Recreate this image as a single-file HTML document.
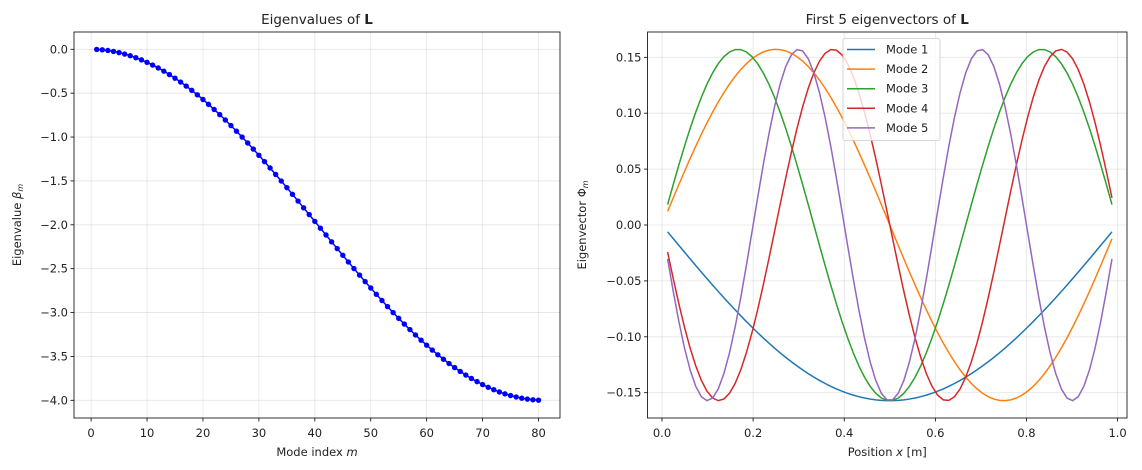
<!DOCTYPE html>
<html><head><meta charset="utf-8"><style>
html,body{margin:0;padding:0;background:#fff}
svg{display:block;font-family:"DejaVu Sans","Liberation Sans",sans-serif}
</style></head><body>
<svg id="s" width="1142" height="470" xmlns="http://www.w3.org/2000/svg"></svg>
<script>
const s=document.getElementById('s');let h='';
const FS=11.5;
function t(x,y,txt,a,sz,extra){h+=`<text x="${x}" y="${y}" font-size="${sz||FS}" text-anchor="${a||'middle'}" fill="#222" ${extra||''}>${txt}</text>`;}
// LEFT
const L={x0:74,x1:560,y0:32,y1:418};
const lx=m=>91.1+(m)*5.593, ly=v=>49.3-v*87.75;
for(let m=0;m<=80;m+=10){const x=lx(m);h+=`<line x1="${x}" y1="${L.y0}" x2="${x}" y2="${L.y1}" stroke="#000" stroke-opacity="0.1" stroke-width="0.8"/>`;h+=`<line x1="${x}" y1="${L.y1}" x2="${x}" y2="${L.y1+3.5}" stroke="#000" stroke-width="0.8"/>`;t(x,L.y1+19,m);}
for(let i=0;i<=8;i++){const v=-0.5*i,y=ly(v);h+=`<line x1="${L.x0}" y1="${y}" x2="${L.x1}" y2="${y}" stroke="#000" stroke-opacity="0.1" stroke-width="0.8"/>`;h+=`<line x1="${L.x0-3.5}" y1="${y}" x2="${L.x0}" y2="${y}" stroke="#000" stroke-width="0.8"/>`;t(L.x0-6,y+4,(i==0?'0.0':'−'+v.toFixed(1).slice(1)),'end');}
let pts=[];for(let m=1;m<=80;m++){const b=-4*Math.pow(Math.sin(m*Math.PI/162),2);pts.push([lx(m),ly(b)]);}
h+=`<polyline points="${pts.map(p=>p.join(',')).join(' ')}" fill="none" stroke="#0000ff" stroke-width="1.5"/>`;
pts.forEach(p=>h+=`<circle cx="${p[0]}" cy="${p[1]}" r="2.7" fill="#0000ff"/>`);
h+=`<rect x="${L.x0}" y="${L.y0}" width="${L.x1-L.x0}" height="${L.y1-L.y0}" fill="none" stroke="#000" stroke-width="0.8"/>`;
t((L.x0+L.x1)/2,24,'Eigenvalues of <tspan font-weight="bold">L</tspan>','middle',13.5);
t((L.x0+L.x1)/2,456,'Mode index <tspan font-style="italic">m</tspan>');
t(0,0,'Eigenvalue <tspan font-style="italic">β</tspan><tspan font-size="8" dy="2" font-style="italic">m</tspan>','middle',FS,'transform="translate(21,225) rotate(-90)"');
// RIGHT
const R={x0:647.5,x1:1127,y0:32,y1:418};
const rx=v=>662+v*455.6, ry=v=>225-v*1118;
for(let i=0;i<=5;i++){const v=i*0.2,x=rx(v);h+=`<line x1="${x}" y1="${R.y0}" x2="${x}" y2="${R.y1}" stroke="#000" stroke-opacity="0.1" stroke-width="0.8"/>`;h+=`<line x1="${x}" y1="${R.y1}" x2="${x}" y2="${R.y1+3.5}" stroke="#000" stroke-width="0.8"/>`;t(x,R.y1+19,v.toFixed(1));}
for(let i=-3;i<=3;i++){const v=i*0.05,y=ry(v);h+=`<line x1="${R.x0}" y1="${y}" x2="${R.x1}" y2="${y}" stroke="#000" stroke-opacity="0.1" stroke-width="0.8"/>`;h+=`<line x1="${R.x0-3.5}" y1="${y}" x2="${R.x0}" y2="${y}" stroke="#000" stroke-width="0.8"/>`;t(R.x0-6,y+4,(v<0?'−':'')+Math.abs(v).toFixed(2),'end');}
const cols=['#1f77b4','#ff7f0e','#2ca02c','#d62728','#9467bd'],sg=[-1,1,1,-1,-1];
const A=Math.sqrt(2/81);
for(let k=1;k<=5;k++){let p=[];for(let i=1;i<=80;i++){const x=i/81;p.push(rx(x).toFixed(2)+','+ry(sg[k-1]*A*Math.sin(k*Math.PI*x)).toFixed(2));}
h+=`<polyline points="${p.join(' ')}" fill="none" stroke="${cols[k-1]}" stroke-width="1.5"/>`;}
h+=`<rect x="${R.x0}" y="${R.y0}" width="${R.x1-R.x0}" height="${R.y1-R.y0}" fill="none" stroke="#000" stroke-width="0.8"/>`;
// legend
h+=`<rect x="843" y="38.5" width="97" height="102" rx="2" fill="#fff" fill-opacity="0.8" stroke="#ccc" stroke-width="0.8"/>`;
for(let k=0;k<5;k++){const y=49.5+k*19.6;h+=`<line x1="847" y1="${y}" x2="875" y2="${y}" stroke="${cols[k]}" stroke-width="1.5"/>`;t(886,y+4,'Mode '+(k+1),'start');}
t((R.x0+R.x1)/2,24,'First 5 eigenvectors of <tspan font-weight="bold">L</tspan>','middle',13.5);
t((R.x0+R.x1)/2,456,'Position <tspan font-style="italic">x</tspan> [m]');
t(0,0,'Eigenvector Φ<tspan font-size="8" dy="2" font-style="italic">m</tspan>','middle',FS,'transform="translate(586,225) rotate(-90)"');
s.innerHTML=h;
</script>
</body></html>
